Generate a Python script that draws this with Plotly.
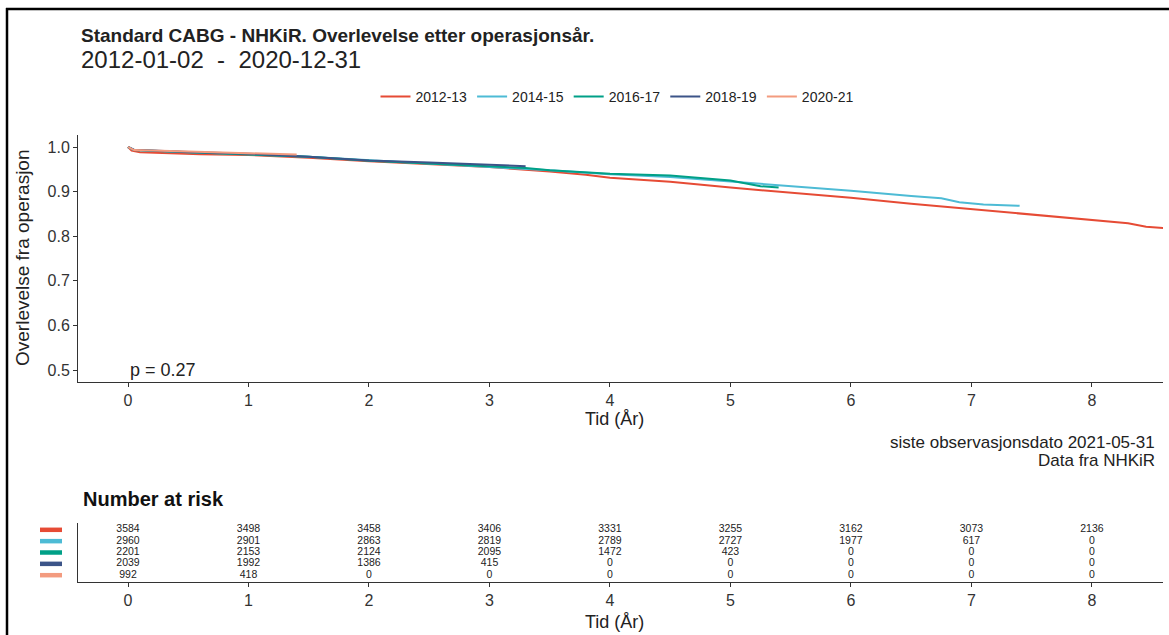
import plotly.graph_objects as go

W, H = 1169, 635

groups = ["2012-13", "2014-15", "2016-17", "2018-19", "2020-21"]
colors = ["#E64B35", "#4DBBD5", "#00A087", "#3C5488", "#F39B7F"]

t_1213 = [0, 0.03, 0.1, 0.3, 0.6, 1.0, 1.5, 2.0, 2.5, 3.0, 3.5, 3.8, 4.0, 4.5, 5.0, 5.5, 6.0, 6.5, 7.0, 7.5, 8.0, 8.3, 8.45, 8.6]
s_1213 = [1.0, 0.992, 0.988, 0.986, 0.984, 0.982, 0.976, 0.968, 0.962, 0.955, 0.945, 0.938, 0.931, 0.922, 0.909, 0.898, 0.886, 0.873, 0.861, 0.849, 0.837, 0.829, 0.821, 0.818]

t_1415 = [0, 0.05, 0.5, 1.0, 1.5, 2.0, 2.5, 3.0, 3.5, 4.0, 4.5, 5.0, 5.5, 6.0, 6.5, 6.75, 6.9, 7.1, 7.4]
s_1415 = [1.0, 0.993, 0.988, 0.984, 0.978, 0.970, 0.963, 0.955, 0.948, 0.939, 0.933, 0.923, 0.913, 0.902, 0.890, 0.885, 0.876, 0.871, 0.868]

t_1617 = [0, 0.05, 0.5, 1.0, 1.5, 2.0, 2.5, 3.0, 3.3, 3.5, 4.0, 4.5, 5.0, 5.25, 5.4]
s_1617 = [1.0, 0.993, 0.988, 0.983, 0.978, 0.969, 0.963, 0.957, 0.953, 0.948, 0.940, 0.936, 0.925, 0.912, 0.909]

t_1819 = [0, 0.05, 0.5, 1.0, 1.5, 2.0, 2.5, 3.0, 3.25, 3.3]
s_1819 = [1.0, 0.994, 0.989, 0.985, 0.978, 0.970, 0.965, 0.961, 0.958, 0.957]

t_2021 = [0, 0.05, 0.5, 1.0, 1.4]
s_2021 = [1.0, 0.993, 0.990, 0.986, 0.983]

risk_times = [0, 1, 2, 3, 4, 5, 6, 7, 8]
risk_1213 = [3584, 3498, 3458, 3406, 3331, 3255, 3162, 3073, 2136]
risk_1415 = [2960, 2901, 2863, 2819, 2789, 2727, 1977, 617, 0]
risk_1617 = [2201, 2153, 2124, 2095, 1472, 423, 0, 0, 0]
risk_1819 = [2039, 1992, 1386, 415, 0, 0, 0, 0, 0]
risk_2021 = [992, 418, 0, 0, 0, 0, 0, 0, 0]

curves = [(t_1213, s_1213), (t_1415, s_1415), (t_1617, s_1617), (t_1819, s_1819), (t_2021, s_2021)]
risks = [risk_1213, risk_1415, risk_1617, risk_1819, risk_2021]

def px(x):
    return x / W

def py(y):
    return 1 - y / H

FONT = "Liberation Sans, Arial, sans-serif"
fig = go.Figure()

for g, c, (t, s) in zip(groups, colors, curves):
    fig.add_trace(go.Scatter(x=t, y=s, mode="lines", name=g, line=dict(color=c, width=2),
                             xaxis="x", yaxis="y"))

xr = [-0.415, 8.59]
row_pos = [5, 4, 3, 2, 1]
for g, r, yy in zip(groups, risks, row_pos):
    fig.add_trace(go.Scatter(x=risk_times, y=[yy] * len(risk_times), mode="text",
                             text=[str(v) for v in r], textfont=dict(size=10.5, color="#222", family=FONT),
                             showlegend=False, xaxis="x2", yaxis="y2", cliponaxis=False))

# colour keys of the risk table rows, left of the table axis (rows follow the y2 scale)
for c, yy in zip(colors, row_pos):
    fig.add_shape(type="line", xref="paper", yref="y2", x0=px(40), x1=px(62), y0=yy, y1=yy,
                  line=dict(color=c, width=4.5))

axis_common = dict(showline=True, linecolor="#333", linewidth=1, ticks="outside", ticklen=4,
                   tickcolor="#333", showgrid=False, zeroline=False,
                   tickfont=dict(size=16, color="#333", family=FONT), automargin=False)

fig.update_layout(
    width=W, height=H, margin=dict(l=0, r=0, t=0, b=0),
    paper_bgcolor="white", plot_bgcolor="white",
    font=dict(family=FONT, color="#222"),
    xaxis=dict(domain=[px(78), px(1163)], range=xr, tickvals=risk_times, anchor="y", **axis_common),
    yaxis=dict(domain=[py(382), py(135)], range=[0.4731, 1.0269], tickvals=[0.5, 0.6, 0.7, 0.8, 0.9, 1.0],
               ticktext=["0.5", "0.6", "0.7", "0.8", "0.9", "1.0"], anchor="x", **axis_common),
    xaxis2=dict(domain=[px(78), px(1163)], range=xr, tickvals=risk_times, anchor="y2", **axis_common),
    yaxis2=dict(domain=[py(582), py(523)], range=[0.4, 5.6], tickvals=row_pos, showticklabels=False,
                showline=True, linecolor="#333", linewidth=1, ticks="", showgrid=False, zeroline=False,
                anchor="x2", automargin=False),
    legend=dict(orientation="h", x=px(617), y=py(97), xanchor="center", yanchor="middle",
                font=dict(size=14, color="#222", family=FONT), bgcolor="rgba(0,0,0,0)", itemwidth=30),
    showlegend=True,
)

def note(text, x, y, size, xanchor="left", angle=0, color="#222"):
    fig.add_annotation(text=text, xref="paper", yref="paper", x=px(x), y=py(y), xanchor=xanchor,
                       yanchor="middle", showarrow=False, textangle=angle,
                       font=dict(size=size, color=color, family=FONT))

note("<b>Standard CABG - NHKiR. Overlevelse etter operasjonsår.</b>", 79, 35, 19)
note("2012-01-02  -  2020-12-31", 79, 59, 24)
note("Tid (År)", 614, 419, 18, xanchor="center")
note("Overlevelse fra operasjon", 22, 258, 19, xanchor="center", angle=-90)
note("siste observasjonsdato 2021-05-31", 1157, 442, 17, xanchor="right")
note("Data fra NHKiR", 1157, 460, 17, xanchor="right")
note("<b>Number at risk</b>", 81, 499, 20, color="#111")
note("Tid (År)", 614, 622, 18, xanchor="center")

fig.add_annotation(text="p = 0.27", xref="x", yref="y", x=0, y=0.5, xanchor="left", yanchor="middle",
                   showarrow=False, font=dict(size=18, color="#222", family=FONT))

fig.add_shape(type="line", xref="paper", yref="paper", x0=px(7), x1=px(7), y0=0, y1=py(8),
              line=dict(color="black", width=2.5))
fig.add_shape(type="line", xref="paper", yref="paper", x0=px(6), x1=1, y0=py(9), y1=py(9),
              line=dict(color="black", width=2.5))

fig.write_html("out.html")
